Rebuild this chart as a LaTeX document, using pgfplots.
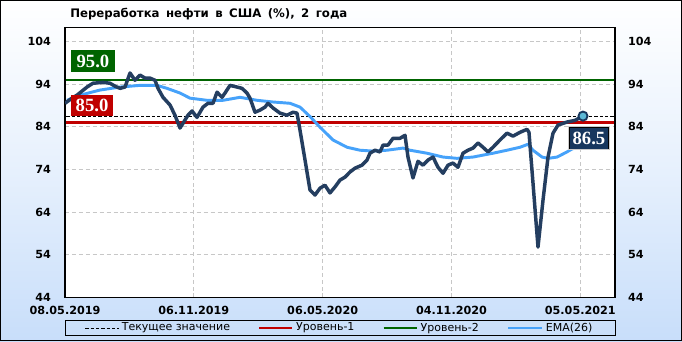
\documentclass[border=0pt]{standalone}
\usepackage{pgfplots}
\pgfplotsset{compat=1.18}
\usepackage{fontspec}
\setmainfont{DejaVu Sans}
\newfontfamily\labfont{Liberation Serif}
\definecolor{mainln}{RGB}{36,62,96}
\definecolor{emaln}{RGB}{70,162,250}
\definecolor{lvlred}{RGB}{192,0,0}
\definecolor{lvlgreen}{RGB}{0,100,0}
\definecolor{boxnavy}{RGB}{23,55,94}
\definecolor{mkfill}{RGB}{92,185,215}
\definecolor{bgblue}{RGB}{200,222,250}
\begin{document}
\begin{tikzpicture}
\useasboundingbox (-48.75pt,-32.7pt) rectangle (462.75pt,223.1pt);
\shade[top color=white, bottom color=bgblue, middle color=white!55!bgblue] (-48.75pt,-32.7pt) rectangle (462.75pt,223.1pt);
\begin{axis}[
  at={(0,0)}, anchor=south west, scale only axis,
  width=412.5pt, height=202.6pt,
  xmin=0, xmax=111, ymin=44, ymax=107.3,
  axis background/.style={fill=white},
  xtick={0,26,52,78,104},
  xticklabels={08.05.2019,06.11.2019,06.05.2020,04.11.2020,05.05.2021},
  ytick={44,54,...,104},
  grid=major,
  major grid style={color=black!22, dash pattern=on 3pt off 2.2pt, line width=0.5pt},
  major tick length=0pt,
  tick label style={font=\bfseries\fontsize{8.4}{10}\selectfont},
  yticklabel style={xshift=-7pt},
  xticklabel style={yshift=-3.25pt},
  /pgf/number format/assume math mode=true,
  axis line style={line width=0.9pt},
  legend style={at={(0.5,-0.113)}, anchor=center, draw=none, fill=none,
    font=\fontsize{8.25}{10}\selectfont, legend columns=4,
    /tikz/every even column/.append style={column sep=19pt}},
  legend image code/.code={\draw[#1] (0pt,0pt) -- (25pt,0pt);},
]
\addplot[black, line width=0.7pt, dash pattern=on 2.5pt off 1.5pt] coordinates {(0.3,86.5) (110.7,86.5)};
\addlegendentry{Текущее значение}
\addplot[lvlred, line width=1.6pt] coordinates {(0.3,85) (110.7,85)};
\addlegendentry{Уровень-1}
\addplot[lvlgreen, line width=1.6pt] coordinates {(0.3,95) (110.7,95)};
\addlegendentry{Уровень-2}
\addplot[emaln, line width=2.2pt, line join=round] coordinates {
(0.40,90.2) (3.03,91.4) (7.06,92.6) (11.10,93.3) (15.14,93.7) (18.57,93.7)
(20.59,93.0) (23.21,91.9) (25.23,90.7) (28.66,90.2) (31.89,90.2) (35.32,90.9)
(38.75,90.2) (41.98,89.8) (45.41,89.5) (47.43,88.6) (49.44,86.4) (51.46,83.9)
(54.09,80.9) (56.91,79.2) (59.54,78.5) (62.16,78.3) (64.98,78.5) (68.21,79.0)
(69.63,78.5) (73.06,77.8) (76.29,76.9) (79.11,76.6) (82.34,76.9) (86.38,77.8)
(89.20,78.5) (91.83,79.2) (93.44,79.9) (94.45,78.5) (96.27,76.9) (97.48,76.6)
(99.30,76.9) (101.31,78.1) (102.32,78.8) (104.54,79.5)};
\addlegendentry{EMA(26)}
\addplot[mainln, line width=2.6pt, line join=round, forget plot] coordinates {
(0,89.5) (1.41,90.7) (2.42,91.4) (4.44,93.3) (5.65,94.2) (7.67,94.4) (9.08,94.2)
(10.09,93.5) (11.10,93.0) (12.11,93.3) (13.12,96.6) (14.13,94.9) (15.14,96.1)
(16.15,95.4) (17.15,95.4) (18.16,94.9) (18.77,93.0) (19.78,90.9) (21.19,89.1)
(22.20,86.7) (23.21,83.7) (24.82,86.7) (25.63,87.7) (26.64,86.2) (27.85,88.6)
(28.86,89.5) (29.87,89.5) (30.68,92.1) (31.69,90.9) (32.29,91.9) (33.30,93.7)
(34.71,93.3) (35.72,93.0) (36.73,91.9) (37.34,90.7) (38.35,87.4) (39.35,87.9)
(40.36,88.6) (40.97,89.5) (41.98,88.4) (43.39,87.2) (44.80,86.7) (46.01,87.4)
(46.82,87.2) (47.43,83.2) (48.44,76.2) (49.44,69.2) (50.45,68.0) (51.46,69.6)
(52.47,70.3) (53.48,68.5) (54.49,69.9) (55.50,71.5) (56.51,72.2) (57.52,73.4)
(58.53,74.3) (59.94,75.0) (60.95,76.2) (61.55,77.8) (62.56,78.5) (63.57,78.1)
(64.18,79.7) (65.19,79.7) (66.20,81.3) (67.61,81.3) (68.62,82.0) (69.22,76.9)
(70.23,72.0) (71.24,75.9) (72.25,75.0) (73.26,76.2) (74.27,76.9) (75.28,74.5)
(76.29,73.1) (77.30,75.0) (78.30,75.5) (79.31,74.5) (80.32,77.8) (81.33,78.5)
(82.34,79.0) (83.35,80.2) (84.36,79.2) (85.37,78.1) (86.38,79.2) (87.79,80.9)
(89.20,82.5) (90.41,81.8) (91.83,82.7) (93.24,83.4) (93.64,82.7) (94.45,70.8)
(95.46,55.8) (96.47,66.8) (97.48,76.9) (98.49,82.5) (99.50,84.4) (101.31,85.1)
(102.93,85.5) (104.54,86.5)};
\addplot[only marks, mark=*, mark size=3.4pt, mark options={draw=boxnavy, fill=mkfill, line width=1.4pt}, forget plot] coordinates {(104.54,86.5)};
\node[fill=lvlgreen, text=white, font=\labfont\bfseries\fontsize{14}{14}\selectfont, minimum width=33pt, minimum height=16.5pt, inner sep=0pt] at (axis cs:5.65,99.36) {95.0};
\node[fill=lvlred, text=white, font=\labfont\bfseries\fontsize{14}{14}\selectfont, minimum width=31.5pt, minimum height=15.75pt, inner sep=0pt] at (axis cs:5.45,88.94) {85.0};
\node[fill=boxnavy, text=white, draw=black, double=white!80!black, double distance=0.5pt, font=\labfont\bfseries\fontsize{14}{14}\selectfont, minimum width=30.5pt, minimum height=17pt, inner sep=0pt] at (axis cs:105.75,81.33) {86.5};
\end{axis}
\begin{axis}[
  at={(0,0)}, anchor=south west, scale only axis,
  width=412.5pt, height=202.6pt,
  xmin=0, xmax=111, ymin=44, ymax=107.3,
  axis y line*=right, axis x line=none,
  ytick={44,54,...,104},
  major tick length=0pt,
  tick label style={font=\bfseries\fontsize{8.4}{10}\selectfont},
  yticklabel style={xshift=6.25pt},
  /pgf/number format/assume math mode=true,
  axis line style={line width=0.9pt},
]
\addplot[draw=none] coordinates {(0,50)};
\end{axis}
\node[anchor=west, inner sep=0pt, font=\bfseries\fontsize{8.8}{10}\selectfont] at (3.75pt,212.6pt) {Переработка\hspace{0.55em}нефти\hspace{0.55em}в\hspace{0.55em}США\hspace{0.55em}(\%),\hspace{0.55em}2\hspace{0.55em}года};
\draw[line width=0.75pt] (0pt,-16.95pt) rectangle (412.5pt,-28.7pt);
\draw[line width=1pt] (-48.25pt,-32.2pt) rectangle (462.25pt,222.6pt);
\end{tikzpicture}
\end{document}
